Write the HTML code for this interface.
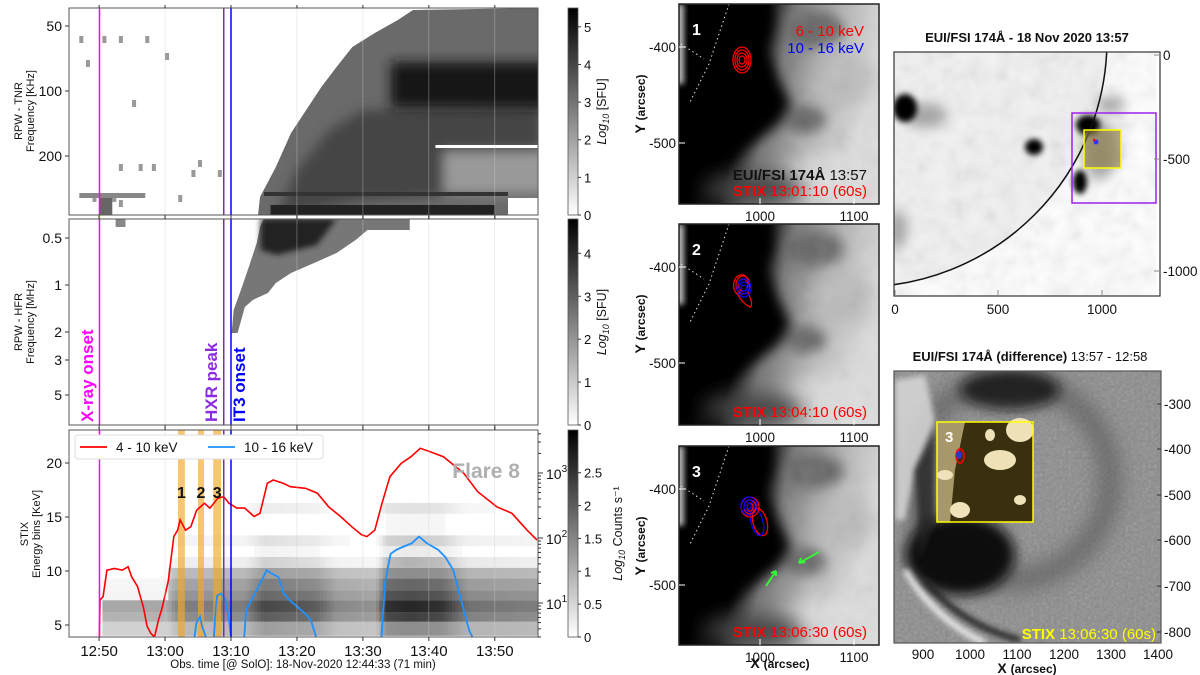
<!DOCTYPE html>
<html><head><meta charset="utf-8"><style>
html,body{margin:0;padding:0;background:#fff;}
svg{display:block;font-family:"Liberation Sans",sans-serif;}
</style></head><body>
<svg id="fig" width="1200" height="675" viewBox="0 0 1200 675" xmlns="http://www.w3.org/2000/svg">
<defs>
<filter id="blur6" x="-60%" y="-60%" width="220%" height="220%"><feGaussianBlur stdDeviation="6"/></filter>
<filter id="blur10" x="-80%" y="-80%" width="260%" height="260%"><feGaussianBlur stdDeviation="10"/></filter>
<filter id="blur3" x="-50%" y="-50%" width="200%" height="200%"><feGaussianBlur stdDeviation="3"/></filter>
<filter id="noise"><feTurbulence type="fractalNoise" baseFrequency="0.35" numOctaves="2" seed="3"/><feColorMatrix type="saturate" values="0"/><feComponentTransfer><feFuncA type="linear" slope="0.35"/></feComponentTransfer></filter>
<filter id="mottle"><feTurbulence type="fractalNoise" baseFrequency="0.06" numOctaves="2" seed="7"/><feColorMatrix type="saturate" values="0"/><feComponentTransfer><feFuncA type="linear" slope="0.5"/></feComponentTransfer></filter>
<linearGradient id="cbar" x1="0" y1="1" x2="0" y2="0"><stop offset="0" stop-color="#fff"/><stop offset="1" stop-color="#000"/></linearGradient>
<linearGradient id="euibg" x1="0" y1="0" x2="1" y2="0.25"><stop offset="0" stop-color="#000"/><stop offset="0.42" stop-color="#0a0a0a"/><stop offset="0.55" stop-color="#777"/><stop offset="0.78" stop-color="#b4b4b4"/><stop offset="1" stop-color="#dcdcdc"/></linearGradient>
<linearGradient id="mottleMask" x1="0" y1="0" x2="1" y2="0"><stop offset="0.45" stop-color="#fff" stop-opacity="0"/><stop offset="0.6" stop-color="#fff" stop-opacity="1"/></linearGradient>
<mask id="rightHalf" maskContentUnits="objectBoundingBox"><rect x="0" y="0" width="1" height="1" fill="url(#mottleMask)"/></mask>
<clipPath id="clipL1"><rect x="69" y="8" width="469" height="207"/></clipPath>
<clipPath id="clipL2"><rect x="69" y="219" width="469" height="206"/></clipPath>
<clipPath id="clipL3"><rect x="69" y="430" width="469" height="207"/></clipPath>
<clipPath id="clipM1"><rect x="679" y="4" width="200" height="200"/></clipPath>
<clipPath id="clipM2"><rect x="679" y="224" width="200" height="201"/></clipPath>
<clipPath id="clipM3"><rect x="679" y="446" width="200" height="199"/></clipPath>
<clipPath id="clipR1"><rect x="894" y="52" width="266" height="244"/></clipPath>
<clipPath id="clipR2"><rect x="894" y="371" width="267" height="272"/></clipPath>
</defs>
<g id="left"></g>
<g id="mid"></g>
<g id="right"></g>
</svg>
<script>
// ---------- data ----------
// time in minutes after 12:50 (SolO)
const redTimes = [0.03,0.14,0.6,1.18,2.34,3.5,4.4,4.96,5.83,6.7,7.28,7.86,8.4,9.0,9.6,10.5,11.33,11.9,12.3,13.1,13.9,14.8,15.96,16.8,18.0,18.9,19.7,20.9,22.1,23.5,24.4,25.5,26.4,27.9,29.0,31.3,33.1,34.8,36.6,38.3,39.8,40.6,41.8,42.9,44.1,45.8,47.3,48.7,50.2,52.2,55.3,57.4,60.3,62.6,64.9,66.4];
const redCounts = [3,11,12.6,32,34,32,36,25,18,8.7,4.4,3.4,3,5.5,8.7,22,105,132,190,132,149,269,342,288,408,432,342,288,288,214,240,694,780,694,615,582,489,302,214,149,112,105,132,342,877,1410,1780,2400,2130,1780,990,515,302,240,132,93];
const blueTimes = [14.47,14.76,15.3,15.6,16.2,null,17.4,17.7,17.9,18.5,19.1,19.7,20.0,null,22.0,22.3,24.9,25.4,26.0,27.2,28.0,28.9,30.1,31.2,32.1,32.9,null,42.8,43.4,44.2,45.1,46.2,47.4,48.5,49.7,51.4,52.5,53.7,54.9,56.1,56.6];
const blueCounts = [3,4.9,6.2,4.4,3,null,3,8.7,13,14,11.8,5.5,3,null,3,7.8,25,32,29,25,14,11,8.7,6.9,5.5,3,null,3,22,57,66,74,83,105,83,66,51,32,11,3.8,3];
const energyEdges = [4,5.3,6.2,7.3,8.2,9.3,10.3,11.3,12.3,13.3,14.3,15.3,16.3];
const rowWeights = [0.45,0.75,0.85,0.7,0.6,0.45,0.3,0.08,0.2,0.04,0.04,0.12];
const actTimes = [-5,0.3,0.5,10.5,11.5,13,22,25,33,36,42,43.5,47,52,56,66];
const actValues = [0,0,0.4,0.4,0.55,0.6,0.6,0.85,0.75,0.55,0.5,0.95,1.0,0.95,0.65,0.6];
const markerTimes = [0.06,18.9,20.0];
const bandStarts = [11.96,15.0,17.3];
const bandEnds = [13.0,15.9,18.5];
const timeTicks = [0,10,20,30,40,50,60];
const timeTickLabels = ["12:50","13:00","13:10","13:20","13:30","13:40","13:50"];
const energyTicks = [5,10,15,20];
const tnrTicks = [[50,26],[100,91],[200,156]];
const hfrTicks = [["0.5",238],["1",285],["2",332],["3",360],["5",395]];

// ---------- scales ----------
const X0=69, X1=538;
function tx(t){return 99.1 + t*6.595;}
function ey(E){return 463 - (E-20)*10.8;}
function cy(c){return 473 - (Math.log10(c)-3)*65;}
function interp(ts,vs,t){if(t<=ts[0])return vs[0];for(let i=1;i<ts.length;i++){if(t<=ts[i]){const f=(t-ts[i-1])/(ts[i]-ts[i-1]);return vs[i-1]+f*(vs[i]-vs[i-1]);}}return vs[vs.length-1];}

const NS="http://www.w3.org/2000/svg";
function el(tag,attrs,parent,text){const e=document.createElementNS(NS,tag);for(const k in attrs)e.setAttribute(k,attrs[k]);if(text!==undefined)e.textContent=text;parent.appendChild(e);return e;}

const L=document.getElementById('left');
const M=document.getElementById('mid');
const R=document.getElementById('right');

// ===== TNR panel =====
const p1=el('g',{'clip-path':'url(#clipL1)'},L);


const tnrPoly=[[24.1,215],[24.4,197],[26.8,167],[29.1,133],[31.4,110],[33.7,87],[36.0,67],[38.4,47],[41.8,33],[45.3,20],[47.6,10],[67,8],[67,215]];
el('polygon',{points:tnrPoly.map(p=>tx(p[0])+','+p[1]).join(' '),fill:'#6a6a6a'},p1);
el('polygon',{points:[[27,215],[30,170],[35,130],[40,110],[67,105],[67,190],[40,200]].map(p=>tx(p[0])+','+p[1]).join(' '),fill:'#444',filter:'url(#blur6)'},p1);
el('rect',{x:tx(44.2),y:62,width:X1-tx(44.2)+20,height:46,fill:'#151515',filter:'url(#blur6)'},p1);
el('rect',{x:tx(52),y:150,width:X1-tx(52)+20,height:45,fill:'#999',filter:'url(#blur6)'},p1);
el('rect',{x:tx(25),y:192,width:tx(62)-tx(25),height:4,fill:'#333'},p1);
el('rect',{x:tx(26),y:205,width:tx(60)-tx(26),height:10,fill:'#222'},p1);
el('rect',{x:tx(51),y:145,width:X1-tx(51),height:3,fill:'#fff'},p1);
el('rect',{x:tx(62),y:198,width:X1-tx(62),height:17,fill:'#fff'},p1);
const specks=[[-3,36],[-2,60],[0.5,36],[3,36],[5,100],[7,36],[10,53],[3,164],[2,195],[6,164],[8,164],[12,195],[14,170],[1,200],[3,200],[-1,195],[15,160],[18,170]];
specks.forEach(s=>{el('rect',{x:tx(s[0]),y:s[1],width:4,height:7,fill:'#999'},p1);});
el('rect',{x:tx(-3),y:193,width:tx(7)-tx(-3),height:5,fill:'#888'},p1);
el('rect',{x:tx(0),y:198,width:tx(2)-tx(0),height:17,fill:'#666'},p1);

// ===== HFR panel =====
const p2=el('g',{'clip-path':'url(#clipL2)'},L);


const hfrPoly=[[20.1,333],[20.4,310],[21.5,290],[22.7,267],[23.9,243],[24.4,227],[25.0,219],[47.1,219],[47.1,230],[40.7,230],[38.9,240],[36.0,253],[32.6,263],[29.1,273],[26.8,283],[25.6,293],[23.3,300],[22.1,307],[21.0,333]];
el('polygon',{points:hfrPoly.map(p=>tx(p[0])+','+p[1]).join(' '),fill:'#777'},p2);
el('polygon',{points:[[24.5,219],[36,219],[33,245],[27,255],[24.5,250]].map(p=>tx(p[0])+','+p[1]).join(' '),fill:'#222',filter:'url(#blur3)'},p2);
el('rect',{x:tx(2.5),y:219,width:tx(4)-tx(2.5),height:8,fill:'#888'},p2);

// ===== STIX panel =====
const p3=el('g',{'clip-path':'url(#clipL3)'},L);


const hm=el('g',{},p3);


for(let t=-4.5;t<66.5;t+=0.5){
  const a=interp(actTimes,actValues,t+0.25);
  if(a<=0)continue;
  for(let r=0;r<rowWeights.length;r++){
    let v=rowWeights[r]*(r>=6?Math.pow(a,3):a);
    if(t<10.5 && r>=3) v*=0.15;
    if(v<0.03)continue;
    const g=Math.round(255*(1-Math.min(1,v)));
    el('rect',{x:tx(t),y:ey(energyEdges[r+1]),width:6.595*0.5+0.4,height:ey(energyEdges[r])-ey(energyEdges[r+1]),fill:`rgb(${g},${g},${g})`},hm);
  }
}
for(let i=0;i<bandStarts.length;i++){
  const b=el('rect',{x:tx(bandStarts[i]),y:430,width:tx(bandEnds[i])-tx(bandStarts[i]),height:207,fill:'#f5a623',opacity:0.65},p3);
  
  
}
function pathFrom(ts,vs){let d='',pen=false;for(let i=0;i<ts.length;i++){if(ts[i]===null){pen=false;continue;}d+=(pen?'L':'M')+tx(ts[i]).toFixed(1)+','+cy(vs[i]).toFixed(1);pen=true;}return d;}
const rl=el('path',{d:pathFrom(redTimes,redCounts),fill:'none',stroke:'#f00','stroke-width':1.6},p3);


const bl=el('path',{d:pathFrom(blueTimes,blueCounts),fill:'none',stroke:'#1e90ff','stroke-width':1.8},p3);



// vertical grid lines
timeTicks.forEach(t=>{[8,219,430].forEach((y0)=>{el('line',{x1:tx(t),x2:tx(t),y1:y0,y2:y0+207,stroke:'#ccc','stroke-width':0.6,opacity:0.6},L);});});
// marker lines
const mColors=['#ff00ff','#7b2fa8','#0000ff'];
[8,219,430].forEach((y0,k)=>{
  const h=[207,206,207][k];
  markerTimes.forEach((t,i)=>{
    const ln=el('line',{x1:tx(t),x2:tx(t),y1:y0,y2:y0+h,stroke:mColors[i],'stroke-width':1.5},L);
    
    
  });
});

// frames
[[8,207],[219,206],[430,207]].forEach(f=>{
  const r=el('rect',{x:X0,y:f[0],width:X1-X0,height:f[1],fill:'none',stroke:'#555','stroke-width':1},L);
  
  
});
// time ticks
timeTicks.forEach((t,i)=>{
  [215,425,637].forEach(y=>el('line',{x1:tx(t),x2:tx(t),y1:y,y2:y+4,stroke:'#333'},L));
  [8,219,430].forEach(y=>el('line',{x1:tx(t),x2:tx(t),y1:y,y2:y-3,stroke:'#333'},L));
  const tl=el('text',{x:tx(t),y:656,'text-anchor':'middle','font-size':15,fill:'#111'},L,timeTickLabels[i]);
  
  
});
const xt=el('text',{x:303,y:668,'text-anchor':'middle','font-size':11.5,fill:'#111'},L,'Obs. time [@ SolO]: 18-Nov-2020 12:44:33 (71 min)');


tnrTicks.forEach(t=>{el('line',{x1:X0-4,x2:X0,y1:t[1],y2:t[1],stroke:'#333'},L);el('text',{x:X0-7,y:t[1]+5,'text-anchor':'end','font-size':14,fill:'#111'},L,t[0]);});
hfrTicks.forEach(t=>{el('line',{x1:X0-4,x2:X0,y1:t[1],y2:t[1],stroke:'#333'},L);el('text',{x:X0-7,y:t[1]+5,'text-anchor':'end','font-size':14,fill:'#111'},L,t[0]);});
energyTicks.forEach(E=>{el('line',{x1:X0-4,x2:X0,y1:ey(E),y2:ey(E),stroke:'#333'},L);el('text',{x:X0-7,y:ey(E)+5,'text-anchor':'end','font-size':14,fill:'#111'},L,E);});
// right log axis
[[10,'1'],[100,'2'],[1000,'3']].forEach(d=>{const y=cy(d[0]);el('line',{x1:X1,x2:X1+5,y1:y,y2:y,stroke:'#333'},L);const tt=el('text',{x:X1+8,y:y+6,'font-size':14,fill:'#111'},L,'10');el('tspan',{'font-size':10,dy:-7},tt,d[1]);});
for(let dec=0;dec<4;dec++){for(let m=2;m<10;m++){const c=m*Math.pow(10,dec);const y=cy(c);if(y>430&&y<637)el('line',{x1:X1,x2:X1+3,y1:y,y2:y,stroke:'#333'},L);}}
function ylab(x,y,l1,l2,name){const g=el('g',{transform:`translate(${x},${y}) rotate(-90)`},L);el('text',{x:0,y:0,'text-anchor':'middle','font-size':11,fill:'#111'},g,l1);el('text',{x:0,y:12,'text-anchor':'middle','font-size':11,fill:'#111'},g,l2);}
ylab(22,111,'RPW - TNR','Frequency [KHz]','tnr-y-axis-title');
ylab(22,322,'RPW - HFR','Frequency [MHz]','hfr-y-axis-title');
ylab(28,534,'STIX','Energy bins [KeV]','stix-y-axis-title');
// event labels
[['X-ray onset','#ff00ff',93],['HXR peak','#8a2be2',217],['IT3 onset','#0000ff',245]].forEach(d=>{
  const t=el('text',{transform:`translate(${d[2]},422) rotate(-90)`,'font-size':17,'font-weight':'bold',fill:d[1]},L,d[0]);
  
  
});
['1','2','3'].forEach((s,i)=>{el('text',{x:tx((bandStarts[i]+bandEnds[i])/2),y:498,'text-anchor':'middle','font-size':16,'font-weight':'bold',fill:'#111'},L,s);});
const fl=el('text',{x:520,y:478,'text-anchor':'end','font-size':21,'font-weight':'bold',fill:'#b0b0b0'},L,'Flare 8');


// legend
const lg=el('g',{},L);


el('rect',{x:75,y:435,width:248,height:24,fill:'#fff',stroke:'#ddd',rx:3},lg);
el('line',{x1:80,x2:107,y1:447,y2:447,stroke:'#f00','stroke-width':1.8},lg);
el('text',{x:116,y:452,'font-size':13.5,fill:'#111'},lg,'4 - 10 keV');
el('line',{x1:208,x2:235,y1:447,y2:447,stroke:'#1e90ff','stroke-width':1.8},lg);
el('text',{x:244,y:452,'font-size':13.5,fill:'#111'},lg,'10 - 16 keV');

// colorbars
function cbar(y0,h,max,ticks,name,label,sup){
  const g=el('g',{},L);
  el('rect',{x:568,y:y0,width:10,height:h,fill:'url(#cbar)',stroke:'#555','stroke-width':0.8},g);
  ticks.forEach(v=>{const y=y0+h-(v/max)*h;el('line',{x1:578,x2:581,y1:y,y2:y,stroke:'#333'},g);el('text',{x:584,y:y+5,'font-size':13,fill:'#111'},g,String(v));});
  const t=el('text',{transform:`translate(${label},${y0+h/2}) rotate(-90)`,'text-anchor':'middle','font-size':12.5,fill:'#111'},g);
  el('tspan',{'font-style':'italic'},t,'Log');el('tspan',{'font-size':9,dy:3,'font-style':'italic'},t,'10');el('tspan',{dy:-3},t,sup);
}
cbar(8,207,5.5,[0,1,2,3,4,5],'tnr-colorbar',606,' [SFU]');
cbar(219,206,4.8,[0,1,2,3,4],'hfr-colorbar',606,' [SFU]');
cbar(430,207,3.15,[0,0.5,1,1.5,2,2.5],'stix-colorbar',622,' Counts s⁻¹');

// ===== middle EUI zoom panels =====
const panels=[{y:4,h:200,clip:'clipM1',n:'1',c:[[63,56,'red']],stix:'STIX 13:01:10 (60s)'},{y:224,h:201,clip:'clipM2',n:'2',c:[[63,63,'both']],stix:'STIX 13:04:10 (60s)'},{y:446,h:199,clip:'clipM3',n:'3',c:[[73,64,'both3']],stix:'STIX 13:06:30 (60s)'}];
panels.forEach((p,k)=>{
  const g=el('g',{},M);
  const c=el('g',{'clip-path':`url(#${p.clip})`},g);
  const X=679,Y=p.y;
  el('rect',{x:X,y:Y,width:200,height:p.h,fill:'url(#euibg)'},c);
  el('ellipse',{cx:X+135,cy:Y+25,rx:30,ry:18,fill:'#666',filter:'url(#blur6)'},c);
  el('ellipse',{cx:X+125,cy:Y+115,rx:22,ry:14,fill:'#666',filter:'url(#blur6)'},c);
  el('ellipse',{cx:X+165,cy:Y+75,rx:30,ry:28,fill:'#bbb',filter:'url(#blur10)'},c);
  el('ellipse',{cx:X+155,cy:Y+175,rx:45,ry:25,fill:'#ddd',filter:'url(#blur10)'},c);
  el('rect',{x:X,y:Y,width:200,height:p.h,fill:'#888',filter:'url(#mottle)',opacity:0.35,mask:'url(#rightHalf)'},c);
  el('polygon',{points:[[-10,-10],[90,-10],[95,20],[88,45],[100,75],[112,100],[100,120],[80,135],[60,150],[45,165],[25,180],[10,200],[-10,210]].map(q=>(X+q[0])+','+(Y+q[1])).join(' '),fill:'#000',filter:'url(#blur6)'},c);
  el('ellipse',{cx:X+75,cy:Y+185,rx:50,ry:15,fill:'#444',filter:'url(#blur10)'},c);
  el('rect',{x:X-4,y:Y,width:9,height:p.h*0.4,fill:'#bbb',filter:'url(#blur3)'},c);
  el('polyline',{points:`${X+50},${Y} ${X+30},${Y+60} ${X+10},${Y+100}`,fill:'none',stroke:'#ddd','stroke-dasharray':'1.5 3','stroke-width':1},c);
  el('polyline',{points:`${X+2},${Y+40} ${X+25},${Y+55}`,fill:'none',stroke:'#ddd','stroke-dasharray':'1.5 3','stroke-width':1},c);
  p.c.forEach(cc=>{
    const cx=X+cc[0],cyy=Y+cc[1];
    if(cc[2]==='red'){[[9,13],[7,10],[5,7],[3,4]].forEach(r=>el('ellipse',{cx,cy:cyy,rx:r[0],ry:r[1],fill:'none',stroke:'#f00','stroke-width':1.3},c));}
    else if(cc[2]==='both'){el('path',{d:`M${cx-8},${cyy-5} Q${cx-6},${cyy-13} ${cx+2},${cyy-12} Q${cx+10},${cyy-6} ${cx+6},${cyy+6} Q${cx+12},${cyy+18} ${cx+8},${cyy+20} Q${cx},${cyy+16} ${cx-4},${cyy+8} Q${cx-10},${cyy+2} ${cx-8},${cyy-5}Z`,fill:'none',stroke:'#f00','stroke-width':1.3},c);
      [[7,9],[5,6]].forEach(r=>el('ellipse',{cx:cx+1,cy:cyy-2,rx:r[0],ry:r[1],fill:'none',stroke:'#f00','stroke-width':1.2},c));
      [[7,9],[5,6],[3,3]].forEach(r=>el('ellipse',{cx:cx+2,cy:cyy+1,rx:r[0],ry:r[1],fill:'none',stroke:'#00f','stroke-width':1.2},c));}
    else {el('ellipse',{cx:cx+8,cy:cyy+12,rx:7,ry:14,fill:'none',stroke:'#f00','stroke-width':1.3,transform:`rotate(-15 ${cx+8} ${cyy+12})`},c);
      el('ellipse',{cx:cx+5,cy:cyy+12,rx:6,ry:14,fill:'none',stroke:'#00f','stroke-width':1.3,transform:`rotate(-15 ${cx+5} ${cyy+12})`},c);
      [[9,10],[6,7],[3,4]].forEach(r=>{el('ellipse',{cx:cx-2,cy:cyy-3,rx:r[0],ry:r[1],fill:'none',stroke:'#f00','stroke-width':1.2},c);el('ellipse',{cx:cx-3,cy:cyy-4,rx:r[0]-1,ry:r[1]-1,fill:'none',stroke:'#00f','stroke-width':1.2},c);});}
  });
  if(k===2){el('path',{d:`M${X+140},${Y+106} L${X+120},${Y+117} M${X+120},${Y+117} l6,-1 M${X+120},${Y+117} l2,-5`,stroke:'#3f3',fill:'none','stroke-width':1.8},c);
    el('path',{d:`M${X+87},${Y+140} L${X+97},${Y+125} M${X+97},${Y+125} l-5,2 M${X+97},${Y+125} l0,5`,stroke:'#3f3',fill:'none','stroke-width':1.8},c);}
  el('rect',{x:X,y:Y,width:200,height:p.h,fill:'none',stroke:'#222','stroke-width':1.5},g);
  el('text',{x:X+13,y:Y+31,'font-size':16,'font-weight':'bold',fill:'#fff'},g,p.n);
  if(k===0){el('text',{x:X+185,y:Y+32,'text-anchor':'end','font-size':15,fill:'#f00'},g,'6 - 10 keV');el('text',{x:X+185,y:Y+49,'text-anchor':'end','font-size':15,fill:'#00f'},g,'10 - 16 keV');
    const e=el('text',{x:X+188,y:Y+176,'text-anchor':'end','font-size':15,fill:'#111'},g);el('tspan',{'font-weight':'bold'},e,'EUI/FSI 174Å ');el('tspan',{},e,'13:57');}
  const s=el('text',{x:X+188,y:Y+p.h-8,'text-anchor':'end','font-size':15,fill:'#f00'},g);el('tspan',{'font-weight':'bold'},s,'STIX ');el('tspan',{},s,p.stix.slice(5));
  [['-400',43],['-500',139]].forEach(t=>{el('line',{x1:X,x2:X+6,y1:Y+t[1],y2:Y+t[1],stroke:'#fff'},g);el('text',{x:X-3,y:Y+t[1]+5,'text-anchor':'end','font-size':13.5,fill:'#111'},g,t[0]);});
  [['1000',81],['1100',175]].forEach(t=>{el('line',{x1:X+t[1],x2:X+t[1],y1:Y+p.h,y2:Y+p.h-6,stroke:'#fff'},g);el('text',{x:X+t[1],y:Y+p.h+17,'text-anchor':'middle','font-size':13.5,fill:'#111'},g,t[0]);});
  const yl=el('text',{transform:`translate(${X-34},${Y+100}) rotate(-90)`,'text-anchor':'middle','font-size':12,'font-weight':'bold',fill:'#111'},g);el('tspan',{'font-size':14},yl,'Y ');el('tspan',{},yl,'(arcsec)');
});
const mx=el('text',{x:780,y:668,'text-anchor':'middle','font-size':12,'font-weight':'bold',fill:'#111'},M);el('tspan',{'font-size':14},mx,'X ');el('tspan',{},mx,'(arcsec)');

// ===== right top full disk =====
const rt=el('g',{},R);
el('text',{x:1027,y:42,'text-anchor':'middle','font-size':13,'font-weight':'bold',fill:'#111'},rt,'EUI/FSI 174Å - 18 Nov 2020 13:57');
const rc=el('g',{'clip-path':'url(#clipR1)'},rt);
el('rect',{x:894,y:52,width:266,height:244,fill:'#fff'},rc);
el('circle',{cx:860,cy:40,r:247,fill:'#f2f2f2'},rc);
el('circle',{cx:860,cy:40,r:247,fill:'#bbb',filter:'url(#mottle)',opacity:0.5},rc);
[[925,115,22,12],[1100,150,18,30],[1110,105,14,10],[897,230,10,20]].forEach(b=>el('ellipse',{cx:b[0],cy:b[1],rx:b[2],ry:b[3],fill:'#777',filter:'url(#blur6)',opacity:0.6},rc));
[[905,108,12,14],[1034,147,9,8],[1088,125,12,10],[1080,182,7,12]].forEach(b=>el('ellipse',{cx:b[0],cy:b[1],rx:b[2],ry:b[3],fill:'#000',filter:'url(#blur3)'},rc));
el('circle',{cx:860,cy:40,r:247,fill:'none',stroke:'#111','stroke-width':1.5},rc);
el('rect',{x:1084,y:130,width:37,height:38,fill:'#8a7a40',opacity:0.6},rc);
el('rect',{x:1084,y:130,width:37,height:38,fill:'none',stroke:'#ff0','stroke-width':1.5},rc);
el('rect',{x:1072,y:113,width:84,height:90,fill:'none',stroke:'#a020f0','stroke-width':1.5},rc);
el('circle',{cx:1096,cy:142,r:2.5,fill:'#33f'},rc);el('circle',{cx:1094,cy:140,r:1.2,fill:'#f00'},rc);
el('rect',{x:894,y:52,width:266,height:244,fill:'none',stroke:'#333','stroke-width':1.2},rt);
[['0',895],['500',998],['1000',1102]].forEach(t=>{el('line',{x1:t[1],x2:t[1],y1:296,y2:290,stroke:'#888'},rt);el('text',{x:t[1],y:314,'text-anchor':'middle','font-size':13.5,fill:'#111'},rt,t[0]);});
[['0',55],['-500',159],['-1000',271]].forEach(t=>{el('line',{x1:1154,x2:1160,y1:t[1],y2:t[1],stroke:'#888'},rt);el('text',{x:1163,y:t[1]+5,'font-size':13.5,fill:'#111'},rt,t[0]);});

// ===== right bottom difference =====
const rb=el('g',{},R);
el('text',{x:1030,y:361,'text-anchor':'middle','font-size':13,fill:'#111'},rb).innerHTML='<tspan font-weight="bold">EUI/FSI 174Å (difference)</tspan>  13:57 - 12:58';
const bc=el('g',{'clip-path':'url(#clipR2)'},rb);
el('rect',{x:894,y:371,width:267,height:272,fill:'#8a8a8a'},bc);
el('rect',{x:894,y:371,width:267,height:272,fill:'#888',filter:'url(#noise)'},bc);
el('ellipse',{cx:1010,cy:480,rx:100,ry:100,fill:'none',stroke:'#555','stroke-width':20,filter:'url(#blur10)',opacity:0.7},bc);
el('ellipse',{cx:960,cy:555,rx:55,ry:40,fill:'#111',filter:'url(#blur6)'},bc);
el('ellipse',{cx:1010,cy:390,rx:50,ry:20,fill:'#111',filter:'url(#blur6)',opacity:0.8},bc);
el('path',{d:'M895,380 L925,375 L935,420 L915,470 L905,520 L895,520 Z',fill:'#ddd',filter:'url(#blur3)',opacity:0.8},bc);
el('path',{d:'M915,470 L935,430 L935,520 L920,560 Z',fill:'#222',filter:'url(#blur3)',opacity:0.8},bc);
el('path',{d:'M905,570 Q935,620 985,643',fill:'none',stroke:'#eee','stroke-width':6,filter:'url(#blur3)'},bc);
el('path',{d:'M925,580 Q960,625 1020,640',fill:'none',stroke:'#222','stroke-width':6,filter:'url(#blur3)'},bc);
el('rect',{x:937,y:422,width:96,height:100,fill:'#3a3010'},bc);
el('polygon',{points:'937,422 965,422 955,470 950,522 937,522',fill:'#a69868'},bc);
[[1000,460,16,10],[1020,430,14,12],[1020,500,6,5],[960,510,10,8],[990,435,5,6],[945,475,8,5]].forEach(b=>el('ellipse',{cx:b[0],cy:b[1],rx:b[2],ry:b[3],fill:'#efe2b8'},bc));
el('rect',{x:937,y:422,width:96,height:100,fill:'none',stroke:'#ff0','stroke-width':1.5},bc);
el('ellipse',{cx:960,cy:456,rx:4,ry:7,fill:'none',stroke:'#f00','stroke-width':1.5},bc);
el('ellipse',{cx:959,cy:455,rx:3,ry:4,fill:'#33c'},bc);
el('text',{x:945,y:442,'font-size':15,'font-weight':'bold',fill:'#fff'},bc,'3');
el('rect',{x:894,y:371,width:267,height:272,fill:'none',stroke:'#555','stroke-width':1.2},rb);
const st=el('text',{x:1156,y:639,'text-anchor':'end','font-size':15,fill:'#ff0'},rb);el('tspan',{'font-weight':'bold'},st,'STIX ');el('tspan',{},st,'13:06:30 (60s)');
[['-300',404],['-400',449],['-500',495],['-600',540],['-700',586],['-800',632]].forEach(t=>{el('line',{x1:1157,x2:1161,y1:t[1],y2:t[1],stroke:'#333'},rb);el('text',{x:1164,y:t[1]+5,'font-size':13.5,fill:'#111'},rb,t[0]);});
[['900',923],['1000',970],['1100',1017],['1200',1064],['1300',1111],['1400',1158]].forEach(t=>{el('text',{x:t[1],y:659,'text-anchor':'middle','font-size':13.5,fill:'#111'},rb,t[0]);});
const rx=el('text',{x:1027,y:673,'text-anchor':'middle','font-size':12,'font-weight':'bold',fill:'#111'},rb);el('tspan',{'font-size':14},rx,'X ');el('tspan',{},rx,'(arcsec)');
</script>
</body></html>
